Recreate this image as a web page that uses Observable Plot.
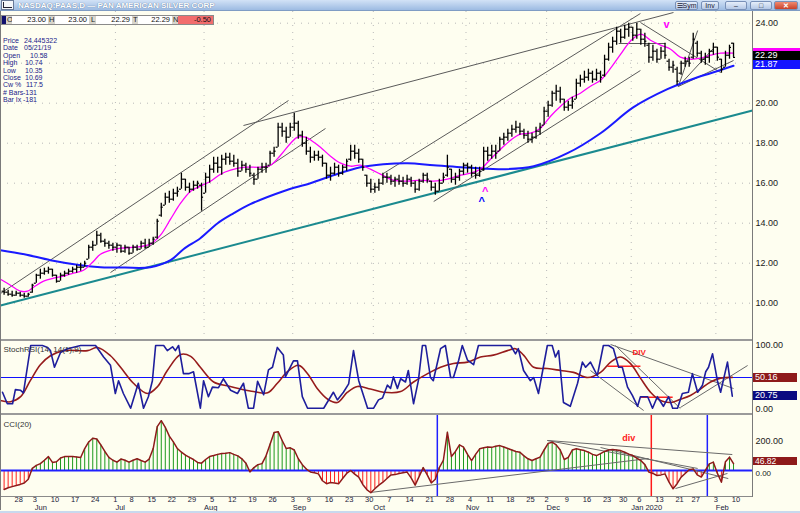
<!DOCTYPE html>
<html><head><meta charset="utf-8">
<script src="https://cdn.jsdelivr.net/npm/d3@7"></script>
<script src="https://cdn.jsdelivr.net/npm/@observablehq/plot@0.6"></script>
<style>
html,body{margin:0;padding:0;background:#fefef0;}
#wrap{position:relative;width:800px;height:513px;overflow:hidden;background:#fefef0;font-family:"Liberation Sans",Arial,sans-serif;}
.abs{position:absolute;box-sizing:border-box;white-space:pre;}
#wrap svg{position:absolute;left:0;overflow:visible;}
</style></head><body><div id="wrap"></div>
<script>
// ---------- DATA ----------
const opens = [10.60,10.55,10.45,10.40,10.50,10.40,10.35,10.55,11.00,11.40,
11.50,11.60,11.70,11.40,11.10,11.40,11.50,11.60,11.70,11.80,
11.80,12.20,12.80,12.90,13.40,13.10,13.00,12.90,12.80,12.90,
12.60,12.80,12.50,12.80,12.70,13.00,12.80,13.00,13.30,14.40,
14.90,15.30,15.20,15.50,15.70,16.20,15.80,15.70,15.90,15.90,
15.50,16.30,16.70,17.00,16.80,17.20,17.30,17.10,17.00,16.60,
16.90,16.70,16.40,16.20,16.70,16.80,16.90,17.50,17.80,18.80,
18.60,18.30,18.80,19.00,18.40,18.00,17.60,17.30,17.40,17.30,
17.00,16.40,16.50,16.80,16.50,16.80,17.20,17.60,17.50,17.20,
16.40,16.00,15.70,15.80,16.00,16.30,16.30,16.10,16.20,16.10,
16.00,16.20,16.00,15.70,16.10,16.40,16.10,15.80,15.60,16.00,
16.40,16.70,16.20,16.30,16.60,16.90,16.80,16.50,16.40,16.70,
17.60,17.40,17.60,17.60,18.20,18.30,18.50,18.70,18.80,18.60,
18.40,18.20,18.30,18.60,18.90,19.60,19.90,20.50,20.60,20.20,
19.80,19.90,20.20,21.00,21.20,21.30,21.50,21.20,21.50,21.40,
22.20,22.80,23.10,23.60,23.30,23.70,23.80,23.40,23.70,23.20,
22.90,22.30,22.60,22.20,22.60,22.10,21.80,21.70,21.50,22.00,
22.10,22.30,23.00,22.50,22.20,22.30,22.60,22.80,22.20,21.80,
22.40,23.00];
const highs = [10.75,10.65,10.60,10.60,10.55,10.50,10.50,10.95,11.45,11.70,
11.75,11.80,11.70,11.40,11.50,11.60,11.70,11.80,11.90,12.00,
12.10,12.90,13.10,13.60,13.50,13.20,13.10,13.00,13.00,12.90,
12.90,12.80,12.90,12.90,13.10,13.20,13.20,13.30,14.20,15.00,
15.50,15.60,15.70,15.80,16.50,16.20,16.00,16.10,16.10,16.00,
16.50,16.90,17.30,17.30,17.40,17.50,17.50,17.40,17.20,17.10,
17.00,16.90,16.50,16.80,17.00,17.00,17.60,17.80,19.00,19.00,
18.80,19.00,19.50,19.10,18.60,18.30,17.80,17.60,17.60,17.40,
17.00,16.80,17.00,16.90,16.90,17.20,17.90,17.90,17.70,17.20,
16.40,16.20,16.00,16.20,16.50,16.50,16.40,16.30,16.40,16.30,
16.40,16.30,16.10,16.20,16.50,16.50,16.10,16.00,16.20,16.50,
17.40,16.70,16.50,16.70,17.00,17.00,16.90,16.80,16.80,17.80,
17.80,17.90,17.90,18.30,18.50,18.70,18.90,19.10,19.00,18.70,
18.60,18.50,18.80,19.00,19.80,20.10,20.60,20.90,20.80,20.20,
20.10,20.30,21.20,21.40,21.60,21.70,21.60,21.70,21.60,22.40,
23.00,23.30,23.80,23.70,23.90,24.00,23.80,24.00,23.70,23.50,
23.00,22.90,22.70,22.80,23.00,22.20,22.10,21.80,22.10,22.30,
22.30,23.50,23.10,22.60,22.50,22.70,23.00,22.80,22.20,22.60,
22.90,23.00];
const lows = [10.40,10.35,10.30,10.35,10.30,10.25,10.30,10.50,11.00,11.20,
11.40,11.45,11.30,11.00,11.10,11.30,11.40,11.50,11.50,11.60,
11.80,12.20,12.60,12.90,13.00,12.80,12.70,12.60,12.50,12.50,
12.50,12.40,12.50,12.60,12.70,12.70,12.80,12.90,13.20,14.30,
14.90,15.00,15.10,15.30,15.70,15.60,15.50,15.60,15.70,14.60,
15.50,16.00,16.50,16.50,16.40,16.90,16.90,16.80,16.30,16.60,
16.50,16.30,15.90,16.20,16.50,16.50,16.90,17.30,17.80,18.30,
18.00,18.30,18.60,18.20,17.80,17.40,17.00,17.10,17.10,16.80,
16.20,16.10,16.40,16.30,16.40,16.60,17.10,17.20,17.00,16.60,
15.80,15.50,15.50,15.60,15.90,16.00,15.90,15.80,15.90,15.80,
15.90,15.80,15.50,15.60,16.00,16.00,15.60,15.40,15.60,16.00,
16.30,16.00,15.90,16.10,16.40,16.50,16.30,16.20,16.30,16.60,
17.10,17.20,17.20,17.60,17.90,18.10,18.30,18.50,18.40,18.20,
18.00,18.00,18.20,18.40,18.90,19.30,19.80,20.10,20.00,19.60,
19.60,19.70,20.20,20.80,21.00,21.10,21.00,21.10,21.00,21.30,
22.10,22.50,22.90,23.00,23.20,23.30,23.10,23.20,22.90,22.80,
22.00,22.10,22.00,22.20,22.20,21.60,21.50,20.90,21.40,21.80,
21.80,22.20,22.30,22.00,21.90,22.00,22.40,22.10,21.50,21.80,
22.20,22.29];
const closes = [10.55,10.45,10.40,10.50,10.40,10.35,10.45,10.90,11.40,11.50,
11.60,11.70,11.40,11.10,11.40,11.50,11.60,11.70,11.80,11.80,
12.00,12.80,12.90,13.40,13.10,13.00,12.90,12.80,12.90,12.60,
12.80,12.50,12.80,12.70,13.00,12.80,13.00,13.20,14.10,14.80,
15.30,15.20,15.50,15.60,16.20,15.80,15.70,15.90,16.00,15.30,
16.30,16.70,17.00,16.80,17.20,17.30,17.10,17.00,16.60,16.90,
16.70,16.50,16.20,16.70,16.80,16.80,17.50,17.60,18.80,18.60,
18.30,18.80,19.00,18.40,18.00,17.60,17.30,17.40,17.30,17.00,
16.40,16.50,16.80,16.50,16.80,17.10,17.60,17.50,17.20,16.80,
16.00,15.70,15.80,16.00,16.30,16.30,16.10,16.20,16.10,16.00,
16.20,16.00,15.70,16.10,16.40,16.20,15.80,15.60,16.00,16.30,
16.80,16.20,16.30,16.60,16.90,16.80,16.50,16.40,16.60,17.60,
17.40,17.60,17.50,18.20,18.30,18.50,18.70,18.80,18.60,18.40,
18.20,18.30,18.60,18.80,19.60,19.90,20.50,20.60,20.20,19.80,
19.90,20.10,21.00,21.20,21.30,21.50,21.20,21.50,21.30,22.20,
22.80,23.10,23.60,23.30,23.70,23.80,23.40,23.70,23.20,23.10,
22.30,22.60,22.20,22.60,22.40,21.80,21.90,21.10,22.00,22.10,
22.00,23.20,22.50,22.20,22.30,22.60,22.80,22.30,21.70,22.40,
22.79,22.29];

const maFastIdx = [-0.9,1.6,4.1,5.8,7.3,9.8,12.3,14.7,17.2,19.7,22.2,23.9,26.4,28.9,32.6,36.3,38.8,41.3,43.8,46.3,48.7,51.2,53.7,56.2,59.9,63.6,66.1,68.6,71.1,72.8,74.8,76.5,78.5,81,83.5,86,88.4,90.9,93.4,96.6,100.1,103.3,106.6,110,113.3,115.7,118.2,120.7,123.2,125.7,128.1,130.6,133.1,135.6,138.1,140.5,143,145.5,148,150.5,153,155.4,158,160.4,162.9,165.4,167.8,170.3,172.8,175.3,177.8,181];
const maFastVal = [11.2,10.9,10.6,10.6,10.8,11.1,11.25,11.35,11.5,11.65,12.1,12.45,12.65,12.75,12.8,12.95,13.4,14.2,15.0,15.6,15.85,16.1,16.45,16.65,16.8,16.8,16.9,17.4,18.0,18.3,18.3,18.1,17.8,17.35,17.0,16.85,16.9,16.7,16.45,16.15,16.1,16.15,16.1,16.2,16.4,16.5,16.7,17.2,17.7,18.15,18.45,18.5,18.75,19.35,19.85,20.25,20.5,20.85,21.15,21.75,22.45,23.1,23.45,23.15,22.9,22.7,22.3,22.2,22.25,22.4,22.5,22.5];
const maSlowIdx = [-0.9,5,11.5,19,23.9,30,36.3,41.3,44.5,48.7,53,57,61.1,69.3,76,81.7,88.4,94.1,100.1,106.6,113.3,123.2,131.4,139.8,148,156.2,164.6,172.1,175.3,181];
const maSlowVal = [12.65,12.45,12.15,11.9,11.8,11.78,11.8,12.15,12.7,13.25,14.0,14.5,14.95,15.6,16.0,16.4,16.8,16.95,17.0,16.9,16.8,16.7,16.85,17.5,18.5,19.8,20.7,21.3,21.5,21.87];

const stochIdx = [-0.4,0.8,2.1,2.8,4.1,4.8,6.6,7.8,9.5,10.8,11.5,12.5,14,15.7,17,19,22.7,24.7,26.4,27.6,28.4,29.6,31.4,33.3,34.6,35.8,36.8,37.6,39.6,40.5,41.8,42.5,43.3,44.5,45.8,47,48.7,49.5,50.7,51.7,53.2,54.4,56.2,57.9,59.4,60.6,61.9,62.9,64.4,65.6,66.6,67.8,69.3,69.8,71.8,72.8,74,75.3,79.3,81.7,82.7,84.2,85.5,86.7,88,90.2,91.7,92.9,93.9,95.1,95.9,96.6,97.6,98.4,99.6,100.3,101.6,102.8,103.8,104.6,105.8,106.5,108.3,109.5,110.8,111.5,112.8,113.7,115,116.5,117.7,125.7,126.9,127.6,128.9,130.6,131.4,132.6,133.8,134.8,136,136.8,137.6,138.8,140.5,142.3,143.5,144.3,145.5,147.2,148.7,150,151.2,152.5,153.4,154.7,155.9,157.2,157.9,159.7,160.9,162.1,163.6,164.9,165.9,167.1,168.3,169.8,170.8,172.1,173.3,174.1,174.8,175.8,177,177.8,179.5,180.7];
const stochVal = [27,9,9,31,30,26,100,100,100,97,92,66,89,95,97,100,100,82,69,25,45,25,2,41,2,20,45,100,100,92,98,92,100,56,56,59,2,45,20,35,34,48,30,25,41,2,2,44,23,62,66,97,85,51,76,76,20,2,2,27,15,27,40,92,45,2,2,15,18,38,33,51,33,48,43,61,9,45,100,100,50,45,95,100,50,50,77,100,77,70,100,100,87,95,61,45,50,25,66,100,100,82,92,11,5,41,74,66,74,53,100,100,95,66,66,35,22,5,20,20,2,20,5,20,2,2,25,27,56,27,38,59,66,87,45,27,74,20.75];
const signalIdx = [-0.9,1.6,4.1,6.5,9,11.5,14.7,20.7,23.2,26.4,28.9,32.1,35.6,38.1,40.5,43.8,46.3,48.7,52,55.4,58.7,61.9,65.4,67.8,70.3,73.1,75.3,77.8,80.3,82.7,85.2,87.7,90.9,94.1,98.4,101.6,105.1,108.3,111.5,115,118.2,121.4,124.9,126.9,128.9,131.4,134.8,138.1,141.3,144.8,148,150.5,153,155.4,157.9,160.4,162.9,165.4,167.8,170.3,172.8,175.3,177.8,180.7];
const signalVal = [14,12,20,45,70,84,92,92,97,84,66,41,25,36,61,86,83,66,43,37,32,28,26,41,59,69,56,32,16,11,27,36,32,27,28,43,56,66,72,74,82,85,92,95,85,66,64,61,58,50,58,74,82,72,49,27,14,11,16,22,32,43,49,50.16];

const cciVal = [-130,-118,-110,-103,-95,-85,-60,15,35,47,
70,95,55,60,85,95,95,95,92,89,
150,195,220,215,175,130,90,70,57,78,
70,57,70,80,68,57,78,150,300,340,
295,235,195,150,125,105,90,75,55,50,
75,95,102,110,116,118,122,110,100,80,
50,-10,20,40,47,100,180,260,265,205,
150,155,140,80,40,10,-10,-15,-23,-70,
-90,-82,-85,-91,-55,-20,0,-25,-45,-95,
-130,-152,-125,-100,-80,-55,-30,-28,-20,-15,
-11,-50,-100,-40,20,-30,-85,-60,20,70,
261,95,130,175,160,110,68,110,148,155,
160,158,165,170,160,150,140,130,125,100,
80,68,80,91,140,185,193,175,140,75,
90,140,148,142,136,125,110,102,115,130,
140,143,140,136,125,112,102,85,68,40,
-11,-20,-34,-30,-23,-80,-125,-90,-45,-20,
5,11,-30,-45,0,45,57,-20,-80,60,
91,47];

const dayTickIdx  = [3,7,12,17,22,27,31,36,41,46,51,56,61,66,71,75,80,85,90,95,100,105,110,115,120,125,130,134,139,144,149,153,157,162,167,171,176,181];
const dayTickText = ["28","3","10","17","24","1","8","15","22","29","5","12","19","26","3","9","16","23","30","7","14","21","28","4","11","18","25","2","9","16","23","30","6","13","21","27","3","10"];
const monthTickIdx  = [7,27,49,71,91,114,134,155,176];
const monthTickText = ["Jun","Jul","Aug","Sep","Oct","Nov","Dec","Jan 2020","Feb"];
const monthGridIdx = [27,49,71,91,114,134,155,176];
const priceTicks = [24,20,18,16,14,12,10];
const priceGrid = [10,12,14,16,18,20,22,24];

// trend lines: [index1, value1, index2, value2]
const tealLine = [[-0.893, 9.885, 185.71, 19.635]];
const priceLines = [[-0.89,10.485,70.57,20.135],[26.4,11.535,79.75,18.735],[59.4,18.885,166.1,24.535],[94.1,16.485,157.9,24.485],[106.6,15.085,157.9,21.635],[152.5,22.985,164.1,22.985],[157.9,24.035,177.8,21.535],[167.3,20.835,172.1,23.635],[167.3,20.835,176.0,22.735],[167.3,20.835,181.0,22.135]];
const stochLines = [[150.5,101.6,181,32.8],[151.7,100,167.8,1.6],[145.5,60.9,158.7,-1.6],[167.8,3.1,184.5,68.75]];
const stochRedLines = [[149.7,67.7,157.9,67.7],[157.9,19.2,165.9,19.2]];
const cciLines = [[90.9,-150,159.9,82],[134.8,205,180.7,109],[134.8,205,172.1,14],[148,157,179.7,-55],[166.6,-123,179.5,-20]];
const cciBlueV = [107.5,174.5];
const cciRedV = [160.6];
const arrows = [{i:119.4,v:15.6,t:"^",c:"#ff00ff"},{i:118.5,v:15.1,t:"^",c:"#0000ff"},{i:164.4,v:23.95,t:"v",c:"#ff00ff"}];

// ---------- BUILD ----------
const wrap = document.getElementById("wrap");
const FONT = "Liberation Sans, Arial, sans-serif";
const XD = [-0.893, 185.71];
const bars = closes.map((c,i)=>({i,o:opens[i],h:highs[i],l:lows[i],c}));
const fast = maFastIdx.map((i,k)=>({i,v:maFastVal[k]}));
const slow = maSlowIdx.map((i,k)=>({i,v:maSlowVal[k]}));
const stoch = stochIdx.map((i,k)=>({i,v:stochVal[k]}));
const signal = signalIdx.map((i,k)=>({i,v:signalVal[k]}));
const cci = cciVal.map((v,i)=>({i,v}));
const dayTicks = dayTickIdx.map((i,k)=>({i,t:dayTickText[k]}));
const monthTicks = monthTickIdx.map((i,k)=>({i,t:monthTickText[k]}));
const L = {x1:d=>d[0],y1:d=>d[1],x2:d=>d[2],y2:d=>d[3]};
const baseStyle = {background:"transparent",fontFamily:FONT,fontSize:"9px",color:"#1a1a1a",overflow:"visible"};

function place(svg, top){ svg.style.top = top+"px"; wrap.appendChild(svg); }

const price = Plot.plot({
  width:800, height:327, marginTop:0, marginBottom:0, marginLeft:0, marginRight:48,
  style:baseStyle,
  x:{domain:XD, axis:null}, y:{domain:[8.235,24.585], axis:null},
  marks:[
    Plot.ruleY(priceGrid,{stroke:"#b9b9b9",strokeDasharray:"1,6"}),
    Plot.ruleX(monthGridIdx,{dx:2.5,stroke:"#b9b9b9",strokeDasharray:"1,6"}),
    Plot.link(tealLine,{...L,stroke:"#1b8a8f",strokeWidth:2}),
    Plot.link(priceLines,{...L,stroke:"#5a5a5a",strokeWidth:1}),
    Plot.line(slow,{x:"i",y:"v",stroke:"#1a1aff",strokeWidth:2,curve:"catmull-rom"}),
    Plot.line(fast,{x:"i",y:"v",stroke:"#ff00ff",strokeWidth:1.3,curve:"catmull-rom"}),
    Plot.ruleX(bars,{x:"i",y1:"l",y2:"h",stroke:"#000",strokeWidth:1.3}),
    Plot.ruleY(bars,{y:"o",x1:d=>d.i-0.5,x2:"i",stroke:"#000",strokeWidth:1.2}),
    Plot.ruleY(bars,{y:"c",x1:"i",x2:d=>d.i+0.5,stroke:"#000",strokeWidth:1.2}),
    Plot.text(arrows,{x:"i",y:"v",text:"t",fill:"c",fontSize:11,fontWeight:"bold"}),
    Plot.axisY({anchor:"right",ticks:priceTicks,tickSize:0,tickPadding:3,label:null,tickFormat:d=>d.toFixed(2)})
  ]
});
place(price, 11);

const st = Plot.plot({
  width:800, height:75, marginTop:0, marginBottom:0, marginLeft:0, marginRight:48,
  style:baseStyle,
  x:{domain:XD, axis:null}, y:{domain:[-6.25,110.94], axis:null},
  marks:[
    Plot.ruleY([50],{stroke:"#1010ff",strokeWidth:1.2}),
    Plot.link(stochLines,{...L,stroke:"#6a6a6a",strokeWidth:1}),
    Plot.link(stochRedLines,{...L,stroke:"#ff2020",strokeWidth:1.5}),
    Plot.line(signal,{x:"i",y:"v",stroke:"#961c1c",strokeWidth:1.6,curve:"catmull-rom"}),
    Plot.line(stoch,{x:"i",y:"v",stroke:"#1e1e9c",strokeWidth:1.6}),
    Plot.text(["DIV"],{x:157.6,y:89,text:d=>d,fill:"#ff1a1a",fontSize:8,fontWeight:"bold"}),
    Plot.text(["StochRSI(14, 14(1),9)"],{frameAnchor:"top-left",dx:3,dy:8,text:d=>d,fontSize:8,fill:"#333"}),
    Plot.axisY({anchor:"right",ticks:[100,0],tickSize:0,tickPadding:3,label:null,tickFormat:d=>d.toFixed(2)})
  ]
});
place(st, 338);

const cc = Plot.plot({
  width:800, height:100, marginTop:0, marginBottom:16, marginLeft:0, marginRight:48,
  style:baseStyle,
  x:{domain:XD, axis:null}, y:{domain:[-184.3,389.1], axis:null},
  marks:[
    Plot.ruleX(cci,{x:"i",y1:0,y2:"v",stroke:d=>d.v>=0?"#1c9a1c":"#ff1c1c",strokeWidth:1}),
    Plot.ruleY([0],{stroke:"#2020ff",strokeWidth:2}),
    Plot.ruleX(cciBlueV,{stroke:"#2020ff",strokeWidth:1.5}),
    Plot.ruleX(cciRedV,{stroke:"#ff1a1a",strokeWidth:1.5}),
    Plot.link(cciLines,{...L,stroke:"#6a6a6a",strokeWidth:1}),
    Plot.line(cci,{x:"i",y:"v",stroke:"#8e1a1a",strokeWidth:1.5}),
    Plot.text(["div"],{x:155,y:218,text:d=>d,fill:"#ff1a1a",fontSize:9,fontWeight:"bold"}),
    Plot.text(["CCI(20)"],{frameAnchor:"top-left",dx:3,dy:8,text:d=>d,fontSize:8,fill:"#333"}),
    Plot.axisY({anchor:"right",ticks:[200],tickSize:0,tickPadding:3,label:null,tickFormat:d=>d.toFixed(2)}),
    Plot.text([0],{x:XD[1],y:d=>d,dx:3,dy:2.5,textAnchor:"start",fontSize:8,text:d=>d.toFixed(2),fill:"#1a1a1a"}),
    Plot.text(dayTicks,{x:"i",text:"t",frameAnchor:"bottom",dx:2.5,dy:4,fontSize:7.5,fill:"#1a1a3a"}),
    Plot.text(monthTicks,{x:"i",text:"t",frameAnchor:"bottom",dx:2.5,dy:12.5,fontSize:7.5,textAnchor:"start",fill:"#1a1a3a"})
  ]
});
place(cc, 413);

// ---------- chrome overlays ----------
function box(css, text){ const d=document.createElement("div"); d.className="abs"; Object.assign(d.style, css); if(text!=null) d.textContent=text; wrap.appendChild(d); return d; }
// separators
box({left:"0px",top:"339px",width:"752px",height:"2px",background:"#9a9a9a"});
box({left:"0px",top:"413px",width:"752px",height:"2px",background:"#9a9a9a"});
box({left:"0px",top:"496px",width:"752px",height:"1px",background:"#8a8a8a"});
box({left:"752px",top:"11px",width:"1px",height:"486px",background:"#7a7a7a"});
box({left:"0px",top:"11px",width:"1px",height:"499px",background:"#7a7a7a"});
box({left:"0px",top:"511px",width:"800px",height:"2px",background:"#c9d9ee"});
// title bar
box({left:"0px",top:"0px",width:"800px",height:"11px",background:"linear-gradient(#d2e2f6,#9dbbe2)",borderBottom:"1px solid #7f9cc4"});
box({left:"1px",top:"0px",width:"13px",height:"10px",background:"#f4f6fa",border:"1px solid #6a7a99"});
box({left:"3px",top:"2px",width:"9px",height:"6px",borderLeft:"1px solid #223",borderBottom:"1px solid #223"});
box({left:"18px",top:"0px",height:"11px",lineHeight:"11px",fontSize:"8px",fontWeight:"bold",color:"#fff",textShadow:"0 0 1px #3a5680"},"NASDAQ:PAAS,D \u2014 PAN AMERICAN SILVER CORP");
const btn = {top:"1px",height:"9px",background:"linear-gradient(#e6eefa,#b4c8e6)",border:"1px solid #7890b8",borderRadius:"2px",fontSize:"7px",lineHeight:"8px",color:"#223",textAlign:"center"};
box({...btn,left:"675px",width:"23px"},"\u2630Sym");
box({...btn,left:"701px",width:"18px"},"Inv");
box({...btn,left:"725px",width:"22px"},"\u2013");
box({...btn,left:"750px",width:"22px"},"\u25a1");
box({...btn,left:"774px",width:"24px",background:"linear-gradient(#f08a70,#c8412a)",color:"#fff",fontWeight:"bold"},"\u2715");
// info bar
box({left:"1px",top:"15px",width:"213px",height:"10px",background:"#d8d5cc",border:"1px solid #8a8a8a"});
box({left:"2px",top:"16px",width:"4px",height:"8px",background:"#10106e"});
const lab = {top:"16px",height:"8px",fontSize:"7.5px",lineHeight:"8px",color:"#222"};
const val = {top:"16px",height:"8px",fontSize:"7.5px",lineHeight:"8px",color:"#111",background:"#fff",textAlign:"right",paddingRight:"2px"};
box({...lab,left:"7px"},"O");  box({...val,left:"12px",width:"36px"},"23.00");
box({...lab,left:"49px"},"H"); box({...val,left:"55px",width:"34px"},"23.00");
box({...lab,left:"91px"},"L"); box({...val,left:"96px",width:"36px"},"22.29");
box({...lab,left:"133px"},"T");box({...val,left:"138px",width:"34px"},"22.29");
box({...lab,left:"173px"},"N");box({...val,left:"178px",width:"35px",background:"#f26d6d"},"-0.50");
// data window
const dwLab = ["Price","Date","Open","High","Low","Close","Cw %","# Bars","Bar Ix"];
const dwVal = ["24.445322","05/21/19","10.58","10.74","10.35","10.69","117.5","-131","-181"];
const dwX = [24,24,30,25,25,25,26,23,23];
dwLab.forEach((t,k)=>{
  const y = 37 + k*7.4;
  box({left:"3px",top:y+"px",fontSize:"7px",lineHeight:"8px",color:"#1a1a8a"},t);
  box({left:dwX[k]+"px",top:y+"px",fontSize:"7px",lineHeight:"8px",color:"#1a1a8a"},dwVal[k]);
});
// value boxes on right axes
const vb = {left:"753px",width:"47px",height:"9px",fontSize:"9px",lineHeight:"9px",color:"#fff",paddingLeft:"2px"};
box({left:"753px",top:"48px",width:"47px",height:"3px",background:"#ff00ff"});
box({...vb,top:"51px",background:"#000"},"22.29");
box({...vb,top:"60px",background:"#1414ff"},"21.87");
box({...vb,top:"373px",width:"44px",background:"#8e1a1a"},"50.16");
box({...vb,top:"391px",width:"44px",background:"#0a0a80"},"20.75");
box({...vb,top:"457px",width:"44px",height:"8px",lineHeight:"8px",fontSize:"8.5px",background:"#8e1a1a"},"46.82");
</script></body></html>
